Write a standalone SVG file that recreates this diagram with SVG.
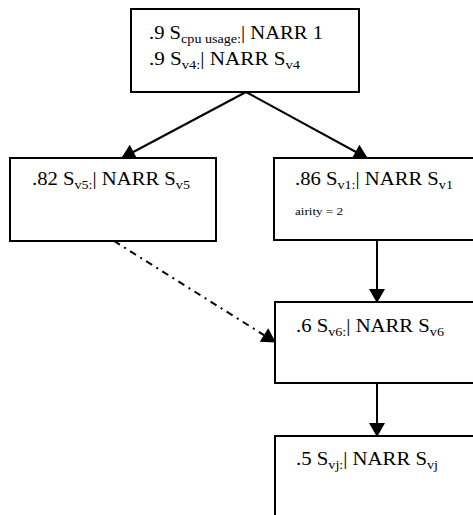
<svg xmlns="http://www.w3.org/2000/svg" width="473" height="515" viewBox="0 0 473 515">
  <style>
    .box { fill: #fff; stroke: #000; stroke-width: 2; }
    .lbl { font-family: "Liberation Serif", "Times New Roman", serif; font-size: 19px; fill: #000; }
    .sub { font-size: 13px; }
    .note { font-family: "Liberation Serif", "Times New Roman", serif; font-size: 11px; fill: #000; }
    .edge { stroke: #000; stroke-width: 2; fill: none; }
    .dashdot { stroke-dasharray: 7 5 2 5; }
  </style>
  <defs>
    <marker id="arrow" markerUnits="userSpaceOnUse" markerWidth="16" markerHeight="16" viewBox="0 0 14 16" refX="13" refY="8" orient="auto">
      <path d="M0,0 L14,8 L0,16 z" fill="#000"/>
    </marker>
  </defs>

  <rect width="473" height="515" fill="#fff"/>

  <g id="connectors">
    <line class="edge" x1="246" y1="92" x2="122" y2="158" marker-end="url(#arrow)"/>
    <line class="edge" x1="246" y1="92" x2="367" y2="158" marker-end="url(#arrow)"/>
    <line class="edge" x1="377" y1="240" x2="377" y2="302" marker-end="url(#arrow)"/>
    <line class="edge" x1="377" y1="383" x2="377" y2="436" marker-end="url(#arrow)"/>
    <line class="edge dashdot" x1="114" y1="241" x2="275" y2="342" marker-end="url(#arrow)"/>
  </g>

  <g id="node-root">
    <rect class="box" x="131" y="9" width="228" height="83"/>
    <text class="lbl" x="149" y="39" textLength="174" lengthAdjust="spacingAndGlyphs">.9 S<tspan class="sub" dy="4">cpu usage:</tspan><tspan dy="-4">| NARR 1</tspan></text>
    <text class="lbl" x="149" y="65" textLength="151" lengthAdjust="spacingAndGlyphs">.9 S<tspan class="sub" dy="4">v4:</tspan><tspan dy="-4">| NARR S</tspan><tspan class="sub" dy="4">v4</tspan></text>
  </g>

  <g id="node-v5">
    <rect class="box" x="10" y="158" width="206" height="83"/>
    <text class="lbl" x="32" y="185" textLength="158" lengthAdjust="spacingAndGlyphs">.82 S<tspan class="sub" dy="4">v5:</tspan><tspan dy="-4">| NARR S</tspan><tspan class="sub" dy="4">v5</tspan></text>
  </g>

  <g id="node-v1">
    <rect class="box" x="274" y="158" width="210" height="82"/>
    <text class="lbl" x="295" y="185" textLength="158" lengthAdjust="spacingAndGlyphs">.86 S<tspan class="sub" dy="4">v1:</tspan><tspan dy="-4">| NARR S</tspan><tspan class="sub" dy="4">v1</tspan></text>
    <text class="note" x="295" y="215" textLength="48" lengthAdjust="spacingAndGlyphs">airity = 2</text>
  </g>

  <g id="node-v6">
    <rect class="box" x="275" y="302" width="210" height="81"/>
    <text class="lbl" x="296" y="332" textLength="148" lengthAdjust="spacingAndGlyphs">.6 S<tspan class="sub" dy="4">v6:</tspan><tspan dy="-4">| NARR S</tspan><tspan class="sub" dy="4">v6</tspan></text>
  </g>

  <g id="node-vj">
    <rect class="box" x="275" y="436" width="210" height="100"/>
    <text class="lbl" x="296" y="465" textLength="142" lengthAdjust="spacingAndGlyphs">.5 S<tspan class="sub" dy="4">vj:</tspan><tspan dy="-4">| NARR S</tspan><tspan class="sub" dy="4">vj</tspan></text>
  </g>
</svg>
